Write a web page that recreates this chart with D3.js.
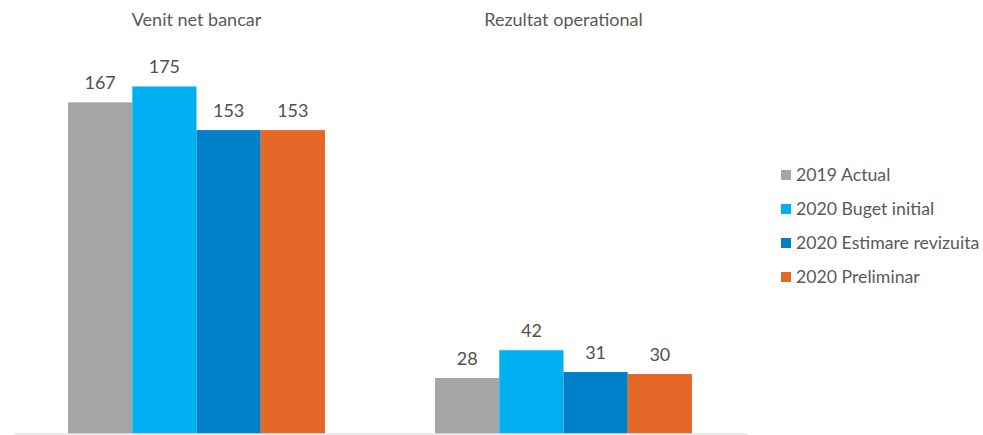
<!DOCTYPE html>
<html>
<head>
<meta charset="utf-8">
<script src="https://cdn.jsdelivr.net/npm/d3@7"></script>
<style>
  html, body { margin: 0; padding: 0; background: #fff; }
  svg { display: block; font-family: Lato, "Noto Sans", sans-serif; }
</style>
</head>
<body>
<svg id="chart" width="983" height="435"></svg>
<script>
const categories = ["Venit net bancar", "Rezultat operational"];
const seriesNames = ["2019 Actual", "2020 Buget initial", "2020 Estimare revizuita", "2020 Preliminar"];
const seriesColors = ["#a5a5a5", "#00b0f0", "#0080c6", "#e66828"];
const values = [
  [167, 175, 153, 153],
  [28, 42, 31, 30]
];

const svg = d3.select("#chart");
const left = 13, right = 747, baseY = 433.5;

const x0 = d3.scaleBand().domain(categories).range([left, right]).paddingInner(0.3).paddingOuter(0.15);
const x1 = d3.scaleBand().domain(seriesNames).range([0, x0.bandwidth()]).padding(0);
const y = d3.scaleLinear().domain([0, 200]).range([baseY, baseY - 396.6]);

const groups = svg.selectAll("g.cat").data(categories).join("g")
  .attr("class", "cat")
  .attr("transform", d => `translate(${x0(d)},0)`);

groups.selectAll("rect").data((d, i) => values[i].map((v, j) => ({v, s: seriesNames[j], c: seriesColors[j]})))
  .join("rect")
  .attr("x", d => x1(d.s))
  .attr("y", d => y(d.v))
  .attr("width", x1.bandwidth())
  .attr("height", d => baseY - y(d.v))
  .attr("fill", d => d.c);

groups.selectAll("text.val").data((d, i) => values[i].map((v, j) => ({v, s: seriesNames[j]})))
  .join("text")
  .attr("class", "val")
  .attr("x", d => x1(d.s) + x1.bandwidth() / 2)
  .attr("y", d => y(d.v) - 13)
  .attr("text-anchor", "middle")
  .attr("font-size", 18)
  .attr("fill", "#505050")
  .text(d => d.v);

groups.append("text")
  .attr("x", x0.bandwidth() / 2)
  .attr("y", 26)
  .attr("text-anchor", "middle")
  .attr("font-size", 18)
  .attr("fill", "#595959")
  .text(d => d);

// baseline axis
const axis = d3.axisBottom(x0).tickSize(0).tickFormat("");
const ax = svg.append("g").attr("transform", `translate(0,${baseY})`).call(axis);
ax.select(".domain").attr("stroke", "#d9d9d9").attr("stroke-width", 1.2);

// legend
const legend = svg.append("g").attr("transform", "translate(781,175)");
const li = legend.selectAll("g").data(seriesNames).join("g")
  .attr("transform", (d, i) => `translate(0,${i * 34})`);
li.append("rect").attr("x", 0).attr("y", -5).attr("width", 10).attr("height", 10)
  .attr("fill", (d, i) => seriesColors[i]);
li.append("text").attr("x", 15).attr("y", 0).attr("dy", "0.35em")
  .attr("font-size", 17.7).attr("fill", "#595959").text(d => d);
</script>
</body>
</html>
